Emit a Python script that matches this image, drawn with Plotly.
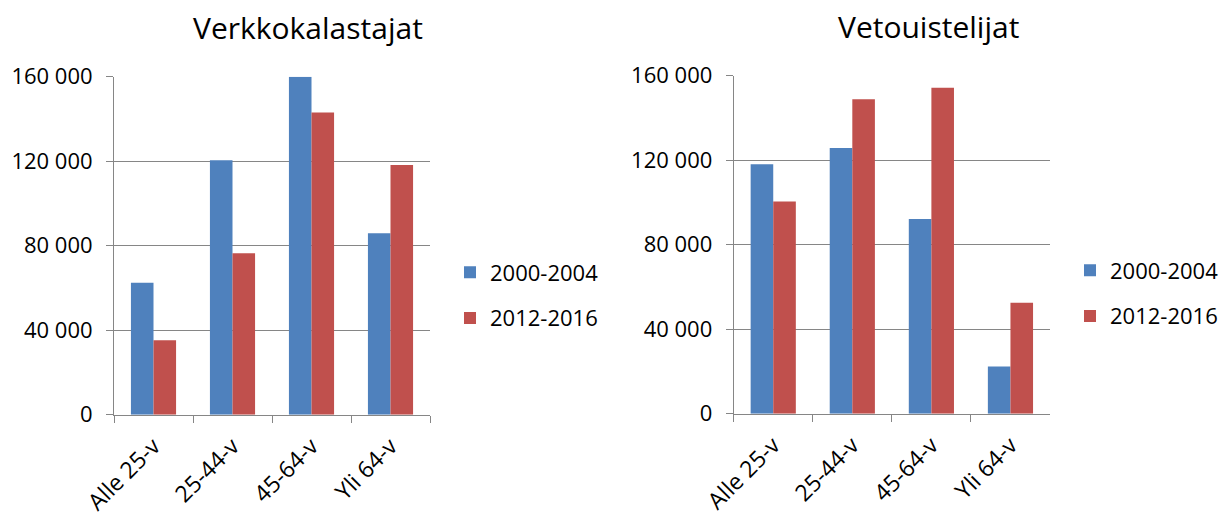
import plotly.graph_objects as go

# Age groups and the two survey periods
categories = ["Alle 25-v", "25-44-v", "45-64-v", "Yli 64-v"]
periods = ["2000-2004", "2012-2016"]

# Verkkokalastajat (net fishers)
net_2000_2004 = [62500, 120400, 160000, 85900]
net_2012_2016 = [35200, 76400, 143100, 118200]

# Vetouistelijat (trolling anglers)
troll_2000_2004 = [118100, 125800, 92200, 22300]
troll_2012_2016 = [100500, 148800, 154300, 52500]

# Y-axis ticks with space as thousands separator
y_tickvals = [0, 40000, 80000, 120000, 160000]
y_ticktext = ["0", "40 000", "80 000", "120 000", "160 000"]

titles = ["Verkkokalastajat", "Vetouistelijat"]

BLUE = "#4F81BD"
RED = "#C0504D"
GRID = "#868686"
FONT = "Open Sans, Liberation Sans, sans-serif"

W, H = 1225, 518

fig = go.Figure()

panels = [
    (net_2000_2004, net_2012_2016, "x", "y", "legend"),
    (troll_2000_2004, troll_2012_2016, "x2", "y2", "legend2"),
]
for first, second, xa, ya, lg in panels:
    fig.add_trace(go.Bar(x=categories, y=first, name=periods[0], marker_color=BLUE,
                         marker_line_width=0, xaxis=xa, yaxis=ya, legend=lg,
                         legendgroup=lg + "a"))
    fig.add_trace(go.Bar(x=categories, y=second, name=periods[1], marker_color=RED,
                         marker_line_width=0, xaxis=xa, yaxis=ya, legend=lg,
                         legendgroup=lg + "b"))

def xaxis_cfg(x0, x1, anchor):
    return dict(domain=[x0 / W, x1 / W], anchor=anchor, type="category",
                automargin=False,
                showline=True, linecolor=GRID, linewidth=1,
                ticks="outside", tickson="boundaries", ticklen=7,
                tickcolor=GRID, tickwidth=1, tickangle=-45,
                ticklabelstandoff=8,
                showgrid=False, tickfont=dict(family=FONT, size=23, color="#000000"),
                fixedrange=True)

def yaxis_cfg(top, bottom, anchor):
    return dict(domain=[1 - bottom / H, 1 - top / H], anchor=anchor,
                automargin=False,
                range=[0, 160000], tickvals=y_tickvals, ticktext=y_ticktext,
                showline=True, linecolor=GRID, linewidth=1,
                ticks="outside", ticklen=7, tickcolor=GRID, tickwidth=1,
                ticklabelstandoff=9,
                showgrid=True, gridcolor=GRID, gridwidth=1, zeroline=False,
                tickfont=dict(family=FONT, size=22, color="#000000"),
                fixedrange=True)

legend_style = dict(font=dict(family=FONT, size=22, color="#000000"),
                    yanchor="middle", xanchor="left", bgcolor="rgba(0,0,0,0)",
                    traceorder="grouped", tracegroupgap=14)

fig.update_layout(
    width=W, height=H,
    margin=dict(l=0, r=0, t=0, b=0, autoexpand=False),
    paper_bgcolor="white", plot_bgcolor="white",
    barmode="group", bargap=0.4286, bargroupgap=0,
    xaxis=xaxis_cfg(114, 430, "y"),
    yaxis=yaxis_cfg(76.7, 414.7, "x"),
    xaxis2=xaxis_cfg(733.7, 1050, "y2"),
    yaxis2=yaxis_cfg(75.7, 413.7, "x2"),
    legend=dict(x=450 / W, y=1 - 295.5 / H, **legend_style),
    legend2=dict(x=1070 / W, y=1 - 293.5 / H, **legend_style),
    annotations=[
        dict(text=titles[0], x=308 / W, y=1 - 27 / H, xref="paper", yref="paper",
             xanchor="center", yanchor="middle", showarrow=False,
             font=dict(family=FONT, size=30, color="#000000")),
        dict(text=titles[1], x=928.5 / W, y=1 - 26 / H, xref="paper", yref="paper",
             xanchor="center", yanchor="middle", showarrow=False,
             font=dict(family=FONT, size=30, color="#000000")),
    ],
)

fig.write_html("out.html")
